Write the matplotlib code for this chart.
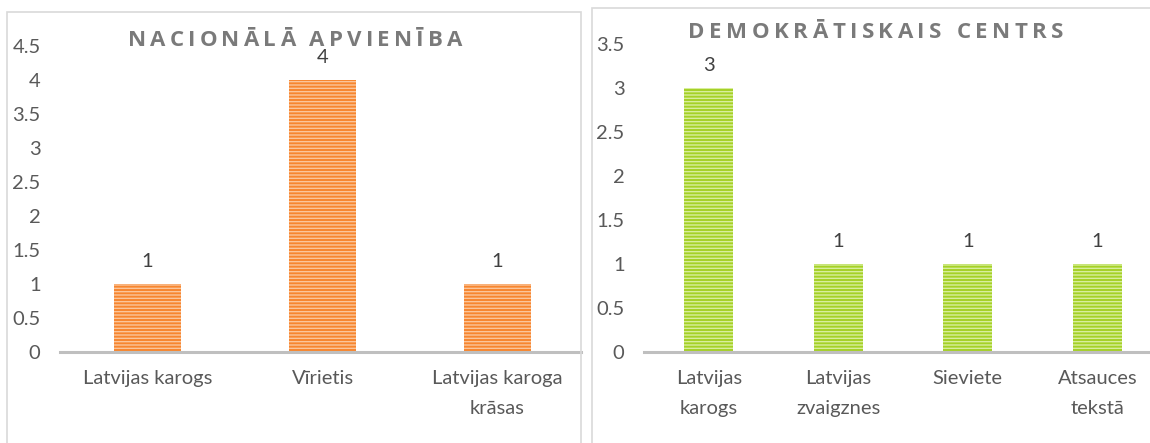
import matplotlib.pyplot as plt
from matplotlib.patches import Rectangle
import numpy as np

left_title = 'NACIONĀLĀ APVIENĪBA'
left_categories = ['Latvijas karogs', 'Vīrietis', 'Latvijas karoga\nkrāsas']
left_values = [1, 4, 1]
left_yticks = [0, 0.5, 1, 1.5, 2, 2.5, 3, 3.5, 4, 4.5]

right_title = 'DEMOKRĀTISKAIS CENTRS'
right_categories = ['Latvijas\nkarogs', 'Latvijas\nzvaigznes', 'Sieviete', 'Atsauces\ntekstā']
right_values = [3, 1, 1, 1]
right_yticks = [0, 0.5, 1, 1.5, 2, 2.5, 3, 3.5]

W, H = 1150, 443
plt.rcParams['font.family'] = ['Lato', 'DejaVu Sans']
plt.rcParams['hatch.linewidth'] = 1.0

text_color = '#595959'
axis_color = '#BFBFBF'

fig = plt.figure(figsize=(W / 100, H / 100), dpi=100)

# panel borders
fig.patches.append(Rectangle((7 / W, -0.1), (581 - 7) / W, (H - 12) / H + 0.1,
                             transform=fig.transFigure, fill=False,
                             edgecolor='#D9D9D9', lw=1.2))
fig.patches.append(Rectangle((592 / W, -0.1), 0.5, (H - 8) / H + 0.1,
                             transform=fig.transFigure, fill=False,
                             edgecolor='#D9D9D9', lw=1.2))


def fx(px):
    return px / W


def fy(py):
    return 1 - py / H


def draw_panel(rect, cats, vals, yticks, ymax, xright, face, stripe):
    ax = fig.add_axes(rect)
    x = np.arange(len(cats))
    ax.bar(x, vals, 0.38, color=face, edgecolor=stripe, hatch='-----', lw=0)
    for xi, v in zip(x, vals):
        ax.annotate(f'{v}', (xi, v), xytext=(0, 10), textcoords='offset points',
                    ha='center', va='bottom', fontsize=14.5, color='#404040')
    ax.set_xlim(-0.5, xright)
    ax.set_ylim(0, ymax)
    ax.set_yticks(yticks)
    ax.set_yticklabels([f'{t:g}' for t in yticks])
    ax.set_xticks(x)
    ax.set_xticklabels(cats, linespacing=1.9)
    ax.tick_params(axis='y', length=0, pad=14, labelsize=14.5, labelcolor=text_color)
    ax.tick_params(axis='x', length=0, pad=13, labelsize=14.5, labelcolor=text_color)
    for s in ['top', 'right', 'left']:
        ax.spines[s].set_visible(False)
    ax.spines['bottom'].set_color(axis_color)
    ax.spines['bottom'].set_linewidth(2.2)
    ax.patch.set_alpha(0)
    return ax


def spaced_title(s, xc, yc, width_px):
    r = fig.canvas.get_renderer()
    kw = dict(fontsize=16, fontweight='bold', color='#7A7A7A',
              family=['Open Sans', 'DejaVu Sans'])
    widths = []
    for ch in s:
        if ch == ' ':
            t = fig.text(0, 0, 'N N', **kw)
            t2 = fig.text(0, 0, 'NN', **kw)
            w = t.get_window_extent(r).width - t2.get_window_extent(r).width
            t.remove()
            t2.remove()
        else:
            t = fig.text(0, 0, ch, **kw)
            w = t.get_window_extent(r).width
            t.remove()
        widths.append(w)
    gap = (width_px - sum(widths)) / (len(s) - 1)
    xp = xc - width_px / 2
    for ch, w in zip(s, widths):
        if ch != ' ':
            fig.text(fx(xp), fy(yc), ch, ha='left', va='center', **kw)
        xp += w + gap


left_rect = [fx(60), fy(352), (581 - 60) / W, (352 - 46) / H]
draw_panel(left_rect, left_categories, left_values, left_yticks, 4.5,
           -0.5 + (581 - 60) / 175, '#F7862F', '#FBC59A')

right_rect = [fx(644), fy(352), (1150 - 644) / W, (352 - 44) / H]
draw_panel(right_rect, right_categories, right_values, right_yticks, 3.5,
           -0.5 + (1150 - 644) / 129.5, '#A5D126', '#D8EE9C')

spaced_title(left_title, 295, 40, 335)
spaced_title(right_title, 876, 33, 375)

fig.savefig('out.png', dpi=100)
